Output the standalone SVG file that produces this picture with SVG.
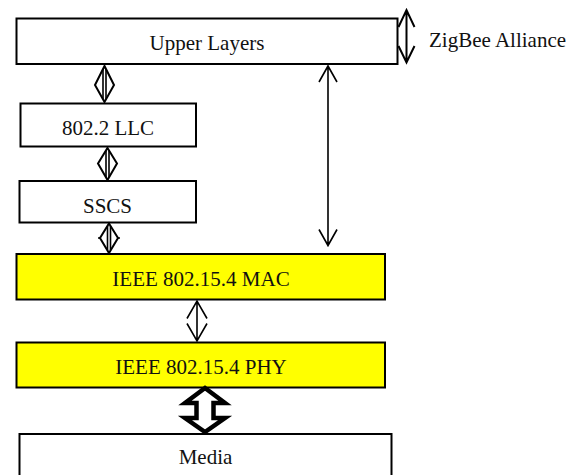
<svg xmlns="http://www.w3.org/2000/svg" width="575" height="475" viewBox="0 0 575 475">
  <style>
    .box { fill: #ffffff; stroke: #000000; stroke-width: 2; }
    .ieee { fill: #ffff00; stroke: #000000; stroke-width: 2; }
    .lbl { font-family: "Liberation Serif", "Times New Roman", serif; font-size: 21px; fill: #111111; }
    .mid { text-anchor: middle; }
    .ln { fill: none; stroke: #000000; stroke-width: 2; stroke-linejoin: miter; }
    .thin { fill: none; stroke: #000000; stroke-width: 1.6; }
    .fat { fill: #ffffff; stroke: #000000; stroke-width: 4.5; stroke-linejoin: miter; }
  </style>

  <!-- layer stack -->
  <g id="upper-layers">
    <rect class="box" x="16.5" y="18.5" width="381" height="45.5"/>
    <text class="lbl mid" x="207" y="50">Upper Layers</text>
  </g>
  <g id="llc">
    <rect class="box" x="20.5" y="103.5" width="175.5" height="43"/>
    <text class="lbl mid" x="108" y="135">802.2 LLC</text>
  </g>
  <g id="sscs">
    <rect class="box" x="19.5" y="181" width="176.5" height="41.5"/>
    <text class="lbl mid" x="107.5" y="212.5">SSCS</text>
  </g>
  <g id="mac">
    <rect class="ieee" x="16.5" y="254" width="368.5" height="45.5"/>
    <text class="lbl mid" x="201" y="286">IEEE 802.15.4 MAC</text>
  </g>
  <g id="phy">
    <rect class="ieee" x="16.5" y="342.5" width="368.5" height="45"/>
    <text class="lbl mid" x="201" y="374">IEEE 802.15.4 PHY</text>
  </g>
  <g id="media">
    <rect class="box" x="19.5" y="434" width="372" height="60"/>
    <text class="lbl mid" x="205.5" y="464">Media</text>
  </g>
  <g id="zigbee-label">
    <text class="lbl" x="429" y="47">ZigBee Alliance</text>
  </g>

  <!-- connectors -->
  <g id="connectors">
    <!-- Upper Layers <-> 802.2 LLC -->
    <path class="ln" d="M104.5,66 L114,85 L104.5,102 L95,85 Z"/>
    <path class="thin" d="M103,69 V99 M106,69 V99"/>
    <!-- 802.2 LLC <-> SSCS -->
    <path class="ln" d="M107.5,148 L117,163.5 L107.5,180 L98,163.5 Z"/>
    <path class="thin" d="M106,151 V177 M109,151 V177"/>
    <!-- SSCS <-> MAC -->
    <path class="ln" d="M109,223.5 L118,238 L109,253 L100,238 Z"/>
    <path class="thin" d="M107.5,226 V250 M110.5,226 V250 M98,238 H100 M118,238 H120"/>
    <!-- Upper Layers <-> MAC (long) -->
    <path class="thin" d="M328,66 V245.5 M319,82 L328,66 L337,82 M319,229.5 L328,245.5 L337,229.5"/>
    <!-- ZigBee Alliance span -->
    <path class="ln" d="M406.5,10 V62.5 M398.5,27 L406.5,10 L414.5,27 M398.5,46 L406.5,62.5 L414.5,46"/>
    <!-- MAC <-> PHY -->
    <path class="thin" d="M197,301 V341 M187,318.5 L197,301 L207,318.5 M187,323.5 L197,341 L207,323.5"/>
    <!-- PHY <-> Media (wide) -->
    <path class="fat" d="M205,388 L225,403 L213.5,403 L213.5,418 L225,418 L205,432 L185,418 L196.5,418 L196.5,403 L185,403 Z"/>
  </g>
</svg>
